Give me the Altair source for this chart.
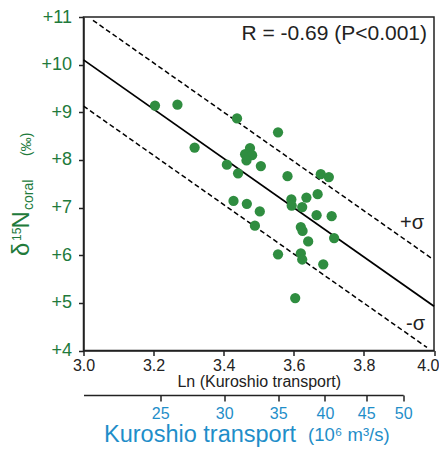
import altair as alt
import numpy as np
import pandas as pd

# ---------------- data ----------------
ln_transport = [3.204, 3.268, 3.438, 3.555, 3.317, 3.475, 3.461, 3.481, 3.465, 3.409,
                3.506, 3.441, 3.582, 3.677, 3.700, 3.428, 3.466, 3.503, 3.489, 3.593,
                3.594, 3.636, 3.624, 3.668, 3.665, 3.708, 3.620, 3.625, 3.715, 3.641,
                3.555, 3.620, 3.624, 3.684, 3.604]
d15n_coral = [9.14, 9.16, 8.87, 8.58, 8.26, 8.25, 8.12, 8.10, 7.99, 7.90,
              7.87, 7.72, 7.66, 7.70, 7.64, 7.14, 7.08, 6.92, 6.62, 7.17,
              7.04, 7.21, 7.01, 7.28, 6.84, 6.82, 6.59, 6.51, 6.36, 6.29,
              6.02, 6.04, 5.91, 5.81, 5.10]

fit_intercept = 10.10   # value of fit at ln = 3.0
fit_slope = -5.17
sigma = 0.97
fit_x = [3.0, 4.0]
upper_x = [3.027, 3.993]
lower_x = [3.0, 3.98]

x_ticks = [3.0, 3.2, 3.4, 3.6, 3.8, 4.0]
y_ticks = [4, 5, 6, 7, 8, 9, 10, 11]
transport_ticks = [25, 30, 35, 40, 45, 50]
transport_max = 50

# ---------------- styling ----------------
FONT = "Liberation Sans"
GREEN_PT = "#2f8d40"
GREEN_TXT = "#217a3b"
BLUE = "#1f8ec9"
DARK = "#222222"

PAD_L, PAD_T, PAD_R, PAD_B = 75.5, 9, 5, 96
W, H = 350.5, 333.5
X0, Y0 = 8 + PAD_L, 8 + PAD_T   # page coordinate of plot origin

pts = pd.DataFrame({"ln": ln_transport, "d15n": d15n_coral})
pts["transport"] = np.exp(pts["ln"])

def line_df(xs, offset, name):
    return pd.DataFrame({
        "ln": xs,
        "d15n": [fit_intercept + offset + fit_slope * (v - 3.0) for v in xs],
        "band": name,
    })

fit = line_df(fit_x, 0.0, "fit")
bands = pd.concat([line_df(upper_x, sigma, "upper"), line_df(lower_x, -sigma, "lower")])

x_scale = alt.Scale(domain=[3.0, 4.0], nice=False, zero=False)
y_scale = alt.Scale(domain=[4, 11], nice=False, zero=False)

x_axis = alt.Axis(values=x_ticks, format=".1f", title="Ln (Kuroshio transport)",
                  labelFontSize=16, labelColor=DARK, titleFontSize=16,
                  titleFontWeight="normal", titleColor=DARK, titlePadding=0,
                  tickSize=5, labelPadding=2, labelFlush=False,
                  labelAlign={"condition": {"test": "datum.value >= 4", "value": "right"},
                              "value": "center"},
                  labelOffset={"condition": {"test": "datum.value >= 4", "value": 5},
                               "value": 0})
y_axis = alt.Axis(values=y_ticks, labelExpr="'+' + datum.value", title=None,
                  labelFontSize=18, labelColor=GREEN_TXT, tickSize=5, labelPadding=7)

X = alt.X("ln:Q", scale=x_scale, axis=x_axis)
Y = alt.Y("d15n:Q", scale=y_scale, axis=y_axis)

band_lines = alt.Chart(bands).mark_line(color="black", strokeWidth=1.5,
                                        strokeDash=[5, 3], clip=True).encode(
    x=X, y=Y, detail="band:N")

fit_line = alt.Chart(fit).mark_line(color="black", strokeWidth=1.8).encode(x=X, y=Y)

points = alt.Chart(pts).mark_circle(size=105, opacity=1, color=GREEN_PT).encode(x=X, y=Y)

def label(text, px, py, size, color, angle=0, align="left"):
    return alt.Chart(alt.Data(values=[{}])).mark_text(
        text=text, fontSize=size, color=color, angle=angle, align=align,
        baseline="alphabetic", font=FONT,
    ).encode(x=alt.value(px - X0), y=alt.value(py - Y0))

texts = [
    label("R = -0.69 (P<0.001)", 427, 39.5, 21, DARK, align="right"),
    label("+σ", 400, 229, 20, DARK),
    label("-σ", 406, 330, 20, DARK),
    # y title:  δ15N coral (‰)
    label("δ", 28.5, 256, 24, GREEN_TXT, angle=270),
    label("15", 20.5, 241, 12, GREEN_TXT, angle=270),
    label("N", 28.5, 228.5, 24, GREEN_TXT, angle=270),
    label("coral", 33, 210, 14, GREEN_TXT, angle=270),
    label("(‰)", 31, 156, 14, GREEN_TXT, angle=270),
    # secondary axis title
    label("Kuroshio transport", 104, 442, 23.5, BLUE),
    label("(10⁶ m³/s)", 308, 441, 18.5, BLUE),
]

main = alt.layer(band_lines, fit_line, points, *texts)

secondary = alt.Chart(pts).mark_point(opacity=0).encode(
    x=alt.X("transport:Q",
            scale=alt.Scale(type="log", domain=[float(np.exp(3.0)), transport_max],
                            range=[0, float((np.log(transport_max) - 3.0) * W)], nice=False),
            axis=alt.Axis(orient="bottom", offset=44.5, values=transport_ticks, title=None,
                          labelFontSize=16, labelColor=BLUE, tickSize=6, labelPadding=4,
                          labelFlush=False, domainColor=DARK, tickColor=DARK)),
    y=Y,
)

chart = alt.layer(main, secondary).resolve_scale(x="independent").properties(
    width=W, height=H,
    autosize=alt.AutoSizeParams(type="none"),
    padding={"left": PAD_L, "top": PAD_T, "right": PAD_R, "bottom": PAD_B},
).configure_view(stroke=DARK, strokeWidth=1.5).configure_axis(
    grid=False, domainColor=DARK, tickColor=DARK, domainWidth=1.5, tickWidth=1.5,
    labelFont=FONT, titleFont=FONT,
).configure_text(font=FONT)

chart.save("out.html", embed_options={"renderer": "svg", "actions": False})
